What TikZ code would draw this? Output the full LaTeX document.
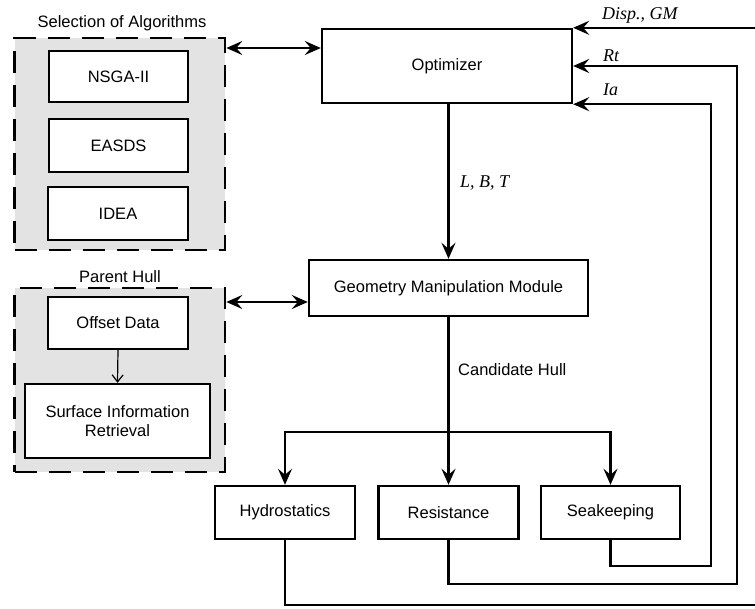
\documentclass[tikz,border=0pt]{standalone}
\usepackage{fontspec}
\setmainfont{Liberation Sans}
\newfontfamily\labfont{Liberation Serif}
\usetikzlibrary{arrows.meta}
\begin{document}
\begin{tikzpicture}[x=1pt,y=-1pt,
 box/.style={draw, line width=2.4pt, fill=white, inner sep=0pt, font=\fontsize{16.5}{19.5}\selectfont, align=center},
 grp/.style={draw, line width=2.6pt, dash pattern=on 22pt off 12pt, fill=black!11, inner sep=0pt},
 conn/.style={line width=2.3pt},
 tip/.style={-{Stealth[length=16pt,width=14pt,inset=6pt]}},
 dtip/.style={{Stealth[length=16pt,width=14pt,inset=6pt]}-{Stealth[length=16pt,width=14pt,inset=6pt]}},
 ttl/.style={font=\fontsize{16.5}{19.5}\selectfont, inner sep=0pt},
 vlab/.style={font=\labfont\itshape\fontsize{18}{20}\selectfont, inner sep=0pt, anchor=west},
]
\useasboundingbox (0,0) rectangle (755,608);
% groups
\node[grp, minimum width=210.5pt, minimum height=212pt] (g1) at (119.75,144) {};
\node[grp, minimum width=210.5pt, minimum height=184pt] (g2) at (119.75,380) {};
\node[ttl] (t1) at (122,23) {Selection of Algorithms};
\node[ttl] (t2) at (120,277) {Parent Hull};
% boxes
\node[box, minimum width=139pt, minimum height=51pt] (nsga) at (118.5,76.5) {NSGA-II};
\node[box, minimum width=139pt, minimum height=53pt] (easds) at (118.5,145.5) {EASDS};
\node[box, minimum width=140pt, minimum height=53pt] (idea) at (118,213.5) {IDEA};
\node[box, minimum width=140pt, minimum height=52pt] (off) at (118,323) {Offset Data};
\node[box, minimum width=185pt, minimum height=74pt] (sir) at (117.5,421) {Surface Information\\Retrieval};
\node[box, minimum width=250pt, minimum height=74pt] (opt) at (447,66) {Optimizer};
\node[box, minimum width=279pt, minimum height=56pt] (gmm) at (448.5,288) {Geometry Manipulation Module};
\node[box, minimum width=140pt, minimum height=53pt] (hyd) at (285,512.5) {Hydrostatics};
\node[box, minimum width=140pt, minimum height=53pt] (res) at (448.5,512.5) {Resistance};
\node[box, minimum width=139pt, minimum height=53pt] (sea) at (610.5,512.5) {Seakeeping};
% labels
\node[vlab] (ldisp) at (602,15) {Disp., GM};
\node[vlab] (lrt) at (603,56) {Rt};
\node[vlab] (lia) at (603,90) {Ia};
\node[vlab] (llbt) at (460,183) {L, B, T};
\node[ttl, anchor=west] (lch) at (458,370) {Candidate Hull};
% connectors
\coordinate (a1) at ([yshift=18pt]opt.west);
\draw[conn,dtip] (g1.east |- a1) -- (a1);
\coordinate (a2) at ([yshift=-14pt]gmm.west);
\draw[conn,dtip] (g2.east |- a2) -- (a2);
\draw[line width=1.2pt, -{Straight Barb[length=7pt,width=11pt]}] (off.south) -- (sir.north);
\draw[conn,tip] (gmm.north |- opt.south) -- (gmm.north);
\draw[conn,tip] (gmm.south) -- (res.north);
\coordinate (br) at (448.5,432);
\draw[conn,tip] (br) -| (hyd.north);
\draw[conn,tip] (br) -| (sea.north);
\coordinate (c1) at (768,605);
\coordinate (c2) at (737,584);
\coordinate (c3) at (711,566);
\draw[conn,tip] (hyd.south) |- (c1) |- (opt.north east);
\draw[conn,tip] (res.south) |- (c2) |- (opt.east);
\draw[conn,tip] (sea.south) |- (c3) |- (opt.south east);
\end{tikzpicture}
\end{document}
